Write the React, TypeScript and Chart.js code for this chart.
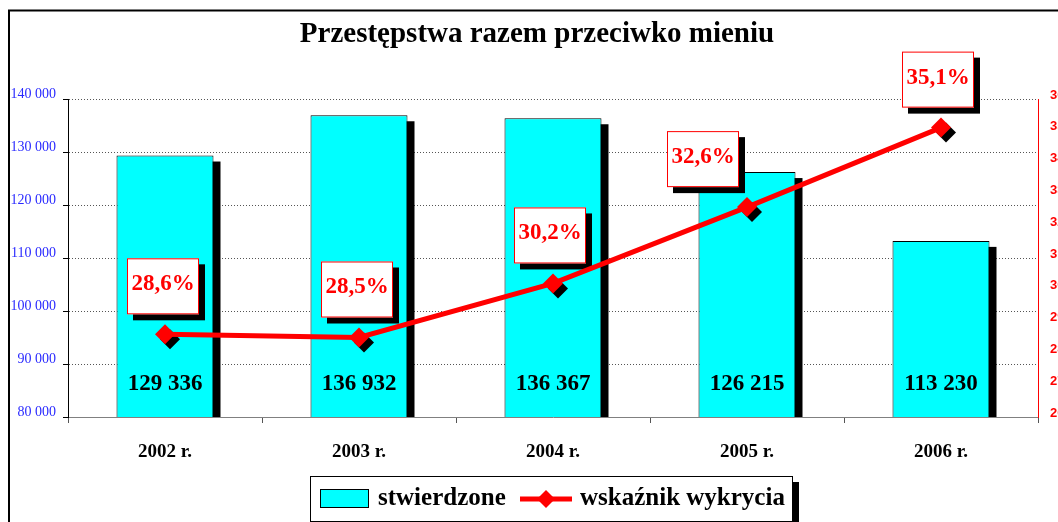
import React, { useEffect, useRef } from 'react';
import { Chart, registerables } from 'chart.js';

Chart.register(...registerables);

const TITLE = 'Przestępstwa razem przeciwko mieniu';
const categories = ['2002 r.', '2003 r.', '2004 r.', '2005 r.', '2006 r.'];
const stwierdzone = [129336, 136932, 136367, 126215, 113230];
const wskaznik = [28.6, 28.5, 30.2, 32.6, 35.1];
const seriesNames = ['stwierdzone', 'wskaźnik wykrycia'];
const leftAxis = { min: 80000, max: 140000, step: 10000 };
const rightAxis = { min: 26, max: 36, step: 1 };
// manual horizontal shift of the percentage callouts (style only)
const calloutShiftX = [-2, -2, -3, -44, -3];

const W = 1050;
const H = 514;
const SERIF = '"Liberation Serif", "Times New Roman", serif';
const SANS = '"Liberation Sans", Arial, sans-serif';

const fmtThousands = (v: number) => String(v).replace(/\B(?=(\d{3})+(?!\d))/g, ' ');
const fmtPct = (v: number) => v.toFixed(1).replace('.', ',') + '%';

function diamond(ctx: CanvasRenderingContext2D, x: number, y: number, r: number) {
  ctx.beginPath();
  ctx.moveTo(x, y - r);
  ctx.lineTo(x + r, y);
  ctx.lineTo(x, y + r);
  ctx.lineTo(x - r, y);
  ctx.closePath();
  ctx.fill();
}

const decor = {
  id: 'decor',
  beforeDatasetDraw(chart: any, args: any) {
    if (args.index !== 0) return;
    const ctx: CanvasRenderingContext2D = chart.ctx;
    const a = chart.chartArea;
    ctx.save();
    ctx.beginPath();
    ctx.rect(a.left, 0, a.right - a.left, a.bottom);
    ctx.clip();
    ctx.fillStyle = '#000';
    chart.getDatasetMeta(0).data.forEach((b: any) => {
      const p = b.getProps(['x', 'y', 'width', 'base'], true);
      ctx.fillRect(p.x - p.width / 2 + 7, p.y + 6, p.width, p.base - p.y);
    });
    ctx.restore();
  },
  afterDatasetDraw(chart: any, args: any) {
    if (args.index !== 0) return;
    const ctx: CanvasRenderingContext2D = chart.ctx;
    const a = chart.chartArea;
    ctx.save();
    // values inside bars
    ctx.fillStyle = '#000';
    ctx.font = `bold 23px ${SERIF}`;
    ctx.textAlign = 'center';
    ctx.textBaseline = 'middle';
    chart.getDatasetMeta(0).data.forEach((b: any, i: number) => {
      ctx.fillText(fmtThousands(stwierdzone[i]), b.x, a.bottom - 33);
    });
    // marker shadows
    const pts = chart.getDatasetMeta(1).data;
    ctx.fillStyle = '#000';
    pts.forEach((p: any) => diamond(ctx, p.x + 5, p.y + 5, 10));
    // callout boxes
    pts.forEach((p: any, i: number) => {
      const cx = p.x + calloutShiftX[i];
      const cy = p.y - 48;
      const bw = 72, bh = 56;
      ctx.fillStyle = '#000';
      ctx.fillRect(cx - bw / 2 + 6, cy - bh / 2 + 6, bw, bh);
      ctx.fillStyle = '#fff';
      ctx.fillRect(cx - bw / 2, cy - bh / 2, bw, bh);
      ctx.strokeStyle = '#ff0000';
      ctx.lineWidth = 1;
      ctx.strokeRect(cx - bw / 2 + 0.5, cy - bh / 2 + 0.5, bw - 1, bh - 1);
      ctx.fillStyle = '#ff0000';
      ctx.font = `bold 23px ${SERIF}`;
      ctx.fillText(fmtPct(wskaznik[i]), cx, cy - 2);
    });
    ctx.restore();
  },
  afterDraw(chart: any) {
    const ctx: CanvasRenderingContext2D = chart.ctx;
    ctx.save();
    // right axis labels (clipped by the canvas edge like the original)
    const s = chart.scales.y1;
    ctx.fillStyle = '#ff0000';
    ctx.font = `bold 13px ${SANS}`;
    ctx.textAlign = 'left';
    ctx.textBaseline = 'middle';
    for (let v = rightAxis.min; v <= rightAxis.max; v += rightAxis.step) {
      ctx.fillText(fmtPct(v), chart.chartArea.right + 12, s.getPixelForValue(v) - 4);
    }
    // outer frame
    ctx.strokeStyle = '#000';
    ctx.lineWidth = 2;
    ctx.strokeRect(1, 2.5, W + 20, H + 20);
    // title
    ctx.fillStyle = '#000';
    ctx.font = `bold 29px ${SERIF}`;
    ctx.textAlign = 'center';
    ctx.textBaseline = 'middle';
    ctx.fillText(TITLE, 529, 27);
    // legend
    const lx = 302, ly = 468, lw = 483, lh = 46;
    ctx.fillStyle = '#000';
    ctx.fillRect(lx + 6, ly + 6, lw, lh);
    ctx.fillStyle = '#fff';
    ctx.fillRect(lx, ly, lw, lh);
    ctx.strokeStyle = '#000';
    ctx.lineWidth = 1;
    ctx.strokeRect(lx + 0.5, ly + 0.5, lw - 1, lh - 1);
    const my = ly + 23;
    ctx.fillStyle = '#00ffff';
    ctx.fillRect(312, my - 10, 49, 19);
    ctx.strokeRect(312.5, my - 9.5, 48, 18);
    ctx.fillStyle = '#000';
    ctx.font = `bold 25px ${SERIF}`;
    ctx.textAlign = 'left';
    ctx.fillText(seriesNames[0], 370, my);
    ctx.strokeStyle = '#ff0000';
    ctx.lineWidth = 5;
    ctx.beginPath();
    ctx.moveTo(512, my);
    ctx.lineTo(564, my);
    ctx.stroke();
    ctx.fillStyle = '#ff0000';
    diamond(ctx, 538, my, 9);
    ctx.fillStyle = '#000';
    ctx.fillText(seriesNames[1], 572, my);
    ctx.restore();
  },
};

export default function App() {
  const ref = useRef<HTMLCanvasElement>(null);
  useEffect(() => {
    if (!ref.current) return;
    const chart = new Chart(ref.current, {
      type: 'bar',
      data: {
        labels: categories,
        datasets: [
          {
            type: 'bar',
            label: seriesNames[0],
            data: stwierdzone,
            backgroundColor: '#00ffff',
            borderColor: '#000',
            borderWidth: 1,
            categoryPercentage: 0.5,
            barPercentage: 1,
            yAxisID: 'y',
            order: 2,
          },
          {
            type: 'line',
            label: seriesNames[1],
            data: wskaznik,
            borderColor: '#ff0000',
            borderWidth: 5,
            pointStyle: 'rectRot',
            pointRadius: 10,
            pointBackgroundColor: '#ff0000',
            pointBorderWidth: 0,
            tension: 0,
            yAxisID: 'y1',
            order: 1,
          } as any,
        ],
      },
      options: {
        responsive: false,
        animation: false,
        devicePixelRatio: 1,
        layout: { padding: { top: 91, left: 0, right: 0, bottom: 0 } },
        plugins: { legend: { display: false }, title: { display: false }, tooltip: { enabled: false } },
        scales: {
          x: {
            offset: true,
            grid: { offset: true, drawOnChartArea: false, drawTicks: true, tickLength: 6, tickColor: '#555', color: '#555' },
            border: { color: '#808080', width: 1 },
            ticks: { color: '#000', font: { family: SERIF, size: 19, weight: 'bold' }, padding: 18, maxRotation: 0 },
            afterFit: (s: any) => { s.height = 105; },
          },
          y: {
            position: 'left',
            min: leftAxis.min,
            max: leftAxis.max,
            grid: { color: '#555', lineWidth: 1, tickLength: 5, tickColor: '#000', tickBorderDash: [] } as any,
            border: { color: '#000', width: 1, dash: [1, 2] },
            ticks: {
              stepSize: leftAxis.step,
              color: '#2a2aff',
              font: { family: SERIF, size: 14 },
              padding: 7,
              labelOffset: -5,
              callback: (v: any) => fmtThousands(Number(v)),
            },
            afterFit: (s: any) => { s.width = 60; },
          },
          y1: {
            position: 'right',
            min: rightAxis.min,
            max: rightAxis.max,
            grid: { drawOnChartArea: false, drawTicks: false },
            border: { color: '#ff0000', width: 1 },
            ticks: { stepSize: rightAxis.step, display: false },
            afterFit: (s: any) => { s.width = 20; },
          },
        },
      },
      plugins: [decor],
    });
    return () => chart.destroy();
  }, []);
  return (
    <div style={{ position: 'fixed', left: 8, top: 8, width: W, height: H, overflow: 'hidden' }}>
      <canvas ref={ref} width={W} height={H} style={{ display: 'block', width: W, height: H }} />
    </div>
  );
}
